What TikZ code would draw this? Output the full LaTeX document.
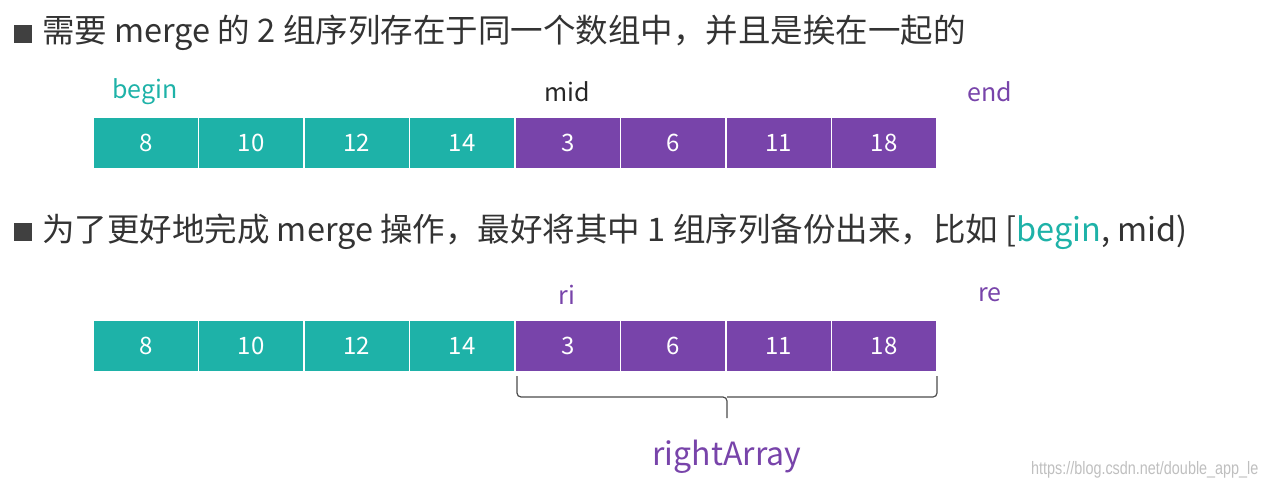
\documentclass[tikz,border=0pt]{standalone}
\usepackage{fontspec}
\setmainfont{Noto Sans CJK SC}
\newfontfamily\wm{Liberation Sans}[FakeStretch=0.8]
\definecolor{teal1}{RGB}{30,178,168}
\definecolor{purp}{RGB}{120,68,170}
\tikzset{cell/.style={minimum width=104pt,minimum height=50pt,inner sep=0pt,text=white,font=\fontsize{24}{24}\selectfont},
 lbl/.style={font=\fontsize{25}{25}\selectfont},
 head/.style={anchor=west,inner sep=0pt,font=\fontsize{32.5}{32.5}\selectfont,text=black!80}}
\begin{document}
\begin{tikzpicture}[x=1pt,y=-1pt]
\useasboundingbox (0,0) rectangle (1270,489);
\fill[black!75] (14,25) rectangle (32,43);
\node[head] (h1) at (42,33) {需要 merge 的 2 组序列存在于同一个数组中，并且是挨在一起的};
\fill[black!75] (14,223) rectangle (32,241);
\node[head] (h2) at (42,232) {为了更好地完成 merge 操作，最好将其中 1 组序列备份出来，比如 [\textcolor{teal1}{begin}, mid)};
\foreach \r/\y in {a/143,b/346}{
 \foreach \v [count=\i] in {8,10,12,14,3,6,11,18}{
  \pgfmathsetmacro{\cx}{93+105.5*(\i-1)+52.75}
  \ifnum\i<5 \def\cc{teal1}\else\def\cc{purp}\fi
  \node[cell,fill=\cc] (\r\i) at (\cx,\y) {\v};
 }}
\node[lbl,text=teal1] (begin) at (145,92) {begin};
\node[lbl,text=black!85] (mid) at (567,92) {mid};
\node[lbl,text=purp] (end) at (990,92) {end};
\node[lbl,text=purp] (ri) at (567,295) {ri};
\node[lbl,text=purp] (re) at (990,295) {re};
\coordinate (bl) at (517,376);
\coordinate (br) at (937,376);
\coordinate (bt) at (727,418);
\draw[black!70,line width=1.2pt,rounded corners=4pt] (bl) -- (517,397) -- (727,397) -- (bt);
\draw[black!70,line width=1.2pt,rounded corners=4pt] (br) -- (937,397) -- (727,397);
\node[font=\fontsize{32}{32}\selectfont,text=purp] (ra) at (727,457) {rightArray};
\node[anchor=east,font=\wm\fontsize{18}{18}\selectfont,text=black!25] (wm) at (1262,470) {https://blog.csdn.net/double\_app\_le};
\end{tikzpicture}
\end{document}
